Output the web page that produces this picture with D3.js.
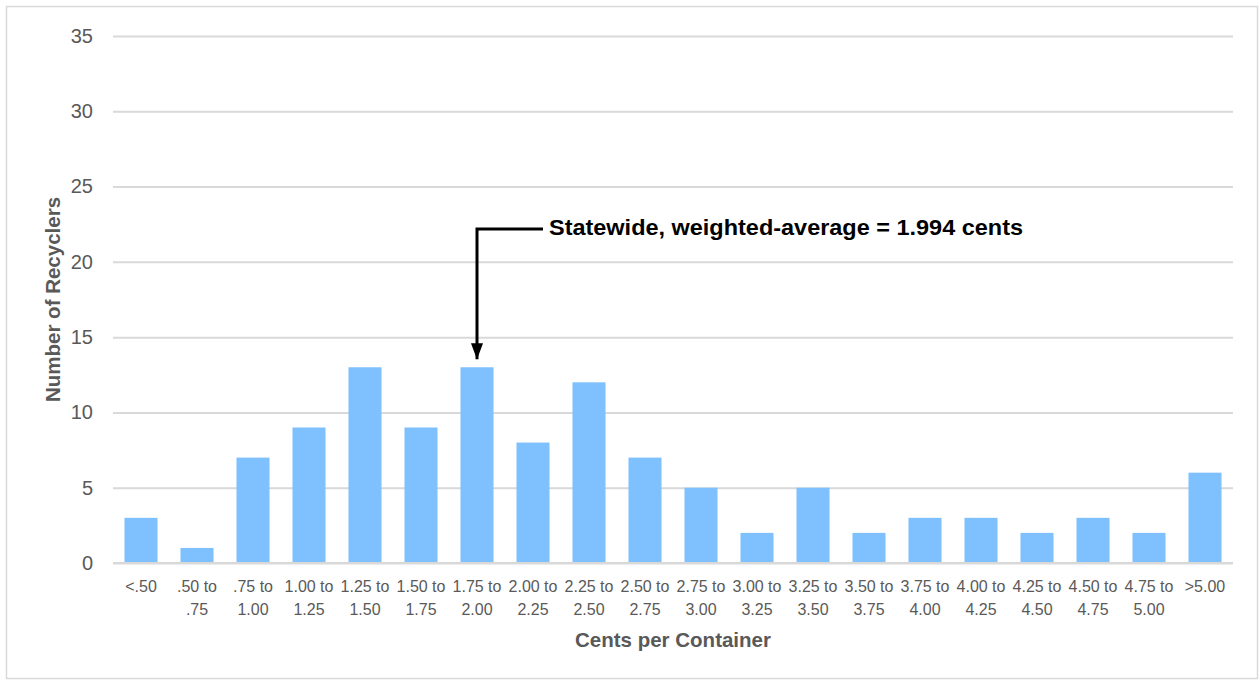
<!DOCTYPE html>
<html>
<head>
<meta charset="utf-8">
<script src="https://cdn.jsdelivr.net/npm/d3@7"></script>
<style>
  body { margin: 0; background: #fff; }
  svg { display: block; font-family: "Liberation Sans", Arial, sans-serif; }
</style>
</head>
<body>
<svg id="chart" width="1259" height="681"></svg>
<script>
// Price buckets (cents per container) and recycler counts
const categories = [
  ["<.50"], [".50 to", ".75"], [".75 to", "1.00"], ["1.00 to", "1.25"], ["1.25 to", "1.50"],
  ["1.50 to", "1.75"], ["1.75 to", "2.00"], ["2.00 to", "2.25"], ["2.25 to", "2.50"], ["2.50 to", "2.75"],
  ["2.75 to", "3.00"], ["3.00 to", "3.25"], ["3.25 to", "3.50"], ["3.50 to", "3.75"], ["3.75 to", "4.00"],
  ["4.00 to", "4.25"], ["4.25 to", "4.50"], ["4.50 to", "4.75"], ["4.75 to", "5.00"], [">5.00"]
];
const recyclers = [3, 1, 7, 9, 13, 9, 13, 8, 12, 7, 5, 2, 5, 2, 3, 3, 2, 3, 2, 6];
const yTicks = [0, 5, 10, 15, 20, 25, 30, 35];
const averageLabel = "Statewide, weighted-average = 1.994 cents";
const averageBucket = 6; // "1.75 to 2.00"

const svg = d3.select("#chart");
const margin = { left: 113, right: 26, top: 36, bottom: 118 };
const W = 1259, H = 681;

// chart frame
svg.append("rect").attr("x", 6.5).attr("y", 6.5).attr("width", W - 8).attr("height", H - 9)
  .attr("fill", "#fff").attr("stroke", "#d9d9d9").attr("stroke-width", 1.5);

const x = d3.scaleBand().domain(d3.range(categories.length))
  .range([margin.left, W - margin.right]).paddingInner(0.41).paddingOuter(0.205);
const y = d3.scaleLinear().domain([0, 35]).range([H - margin.bottom, margin.top]);

// gridlines + y labels
const yAxis = d3.axisLeft(y).tickValues(yTicks).tickSize(-(W - margin.right - margin.left)).tickPadding(20);
const gy = svg.append("g").attr("transform", `translate(${margin.left},0)`).call(yAxis);
gy.select(".domain").remove();
gy.selectAll(".tick line").attr("stroke", "#d9d9d9").attr("stroke-width", 2);
gy.selectAll(".tick text").attr("fill", "#595959").style("font-size", "20px");

// bars
svg.append("g").selectAll("rect").data(recyclers).join("rect")
  .attr("x", (d, i) => x(i)).attr("width", x.bandwidth())
  .attr("y", d => y(d)).attr("height", d => y(0) - y(d))
  .attr("fill", "#7fc1ff");

// baseline
svg.append("line").attr("x1", margin.left).attr("x2", W - margin.right)
  .attr("y1", y(0)).attr("y2", y(0)).attr("stroke", "#d9d9d9").attr("stroke-width", 2);

// category labels
const xAxis = d3.axisBottom(x).tickSize(0).tickFormat(() => "");
const gx = svg.append("g").attr("transform", `translate(0,${y(0)})`).call(xAxis);
gx.select(".domain").remove();
gx.selectAll(".tick").each(function (d) {
  const t = d3.select(this).append("text").attr("fill", "#595959")
    .attr("text-anchor", "middle").style("font-size", "16px");
  categories[d].forEach((line, k) => {
    t.append("tspan").attr("x", 0).attr("y", 29 + k * 23).text(line);
  });
});

// axis titles
svg.append("text").attr("x", (margin.left + W - margin.right) / 2).attr("y", 647)
  .attr("text-anchor", "middle").attr("fill", "#595959")
  .style("font-size", "20.5px").style("font-weight", "bold").text("Cents per Container");
svg.append("text")
  .attr("transform", `translate(60,${(y(0) + y(35)) / 2}) rotate(-90)`)
  .attr("text-anchor", "middle").attr("fill", "#595959")
  .style("font-size", "20.5px").style("font-weight", "bold").text("Number of Recyclers");

// weighted-average callout
const ax = x(averageBucket) + x.bandwidth() / 2;
const lineY = 229;
const tipY = y(recyclers[averageBucket]) - 8;
svg.append("defs").append("marker").attr("id", "arrowhead")
  .attr("viewBox", "0 0 10 10").attr("refX", 10).attr("refY", 5)
  .attr("markerWidth", 5.3).attr("markerHeight", 4).attr("orient", "auto")
  .attr("markerUnits", "strokeWidth")
  .attr("preserveAspectRatio", "none")
  .append("path").attr("d", "M0,0 L10,5 L0,10 Z").attr("fill", "#000");
svg.append("path")
  .attr("d", `M${ax + 66},${lineY} H${ax} V${tipY}`)
  .attr("fill", "none").attr("stroke", "#000").attr("stroke-width", 3)
  .attr("marker-end", "url(#arrowhead)");
svg.append("text").attr("x", ax + 72).attr("y", lineY + 6)
  .attr("fill", "#000").style("font-size", "22px").style("font-weight", "bold")
  .attr("textLength", 474).attr("lengthAdjust", "spacingAndGlyphs")
  .text(averageLabel);
</script>
</body>
</html>
